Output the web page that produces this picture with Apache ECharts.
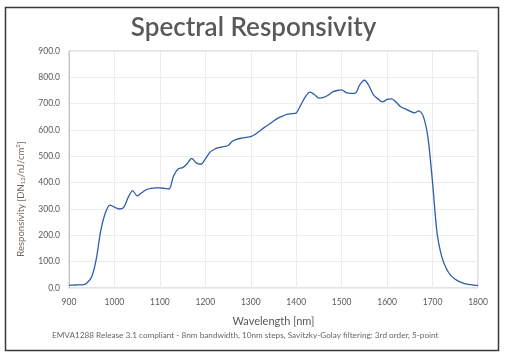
<!DOCTYPE html>
<html><head><meta charset="utf-8">
<script src="https://cdn.jsdelivr.net/npm/echarts@6/dist/echarts.min.js"></script>
<style>html,body{margin:0;padding:0;background:#fff}#c{width:507px;height:357px}</style>
</head><body><div id="c"></div>
<script>
const wavelengths = [900,910,920,930,940,950,960,970,980,990,1000,1010,1020,1030,1040,1050,1060,1070,1080,1090,1100,1110,1120,1130,1140,1150,1160,1170,1180,1190,1200,1210,1220,1230,1240,1250,1260,1270,1280,1290,1300,1310,1320,1330,1340,1350,1360,1370,1380,1390,1400,1410,1420,1430,1440,1450,1460,1470,1480,1490,1500,1510,1520,1530,1540,1550,1560,1570,1580,1590,1600,1610,1620,1630,1640,1650,1660,1670,1680,1690,1700,1710,1720,1730,1740,1750,1760,1770,1780,1790,1800];
const responsivity = [10,11,12,12,20,43,110,219,285,315,307,300,305,343,370,350,362,373,378,380,380,378,376,425,452,457,472,492,475,470,490,515,527,533,537,541,558,565,569,572,575,584,596,610,621,634,645,653,659,662,665,695,726,744,735,721,724,732,745,750,752,742,739,740,772,789,768,733,718,707,716,718,705,688,680,672,665,673,650,570,400,207,120,75,48,33,23,17,14,11,10];
const xTicks = [900,1000,1100,1200,1300,1400,1500,1600,1700,1800];
const yTicks = [0,100,200,300,400,500,600,700,800,900];
const titleText = 'Spectral Responsivity';
const xName = 'Wavelength [nm]';
const footnote = 'EMVA1288 Release 3.1 compliant - 8nm bandwidth, 10nm steps, Savitzky-Golay filtering: 3rd order, 5-point';

const chart = echarts.init(document.getElementById('c'), null, {renderer:'canvas'});
const font = 'Lato, "Open Sans", sans-serif';
chart.setOption({
  animation:false,
  title:{text:titleText,left:'center',top:10,textStyle:{fontFamily:font,fontSize:26,fontWeight:600,color:'#595959'}},
  grid:{left:69,right:29,top:51,bottom:69,show:true,borderColor:'#c8c8c8',borderWidth:1,containLabel:false},
  xAxis:{type:'value',min:xTicks[0],max:xTicks[xTicks.length-1],interval:100,
    name:xName,nameLocation:'middle',nameGap:28,nameTextStyle:{fontFamily:font,fontSize:11,color:'#595959'},
    axisLine:{show:false},axisTick:{show:false},
    axisLabel:{fontFamily:font,fontSize:8.5,color:'#595959',margin:10,formatter:v=>String(v)},
    splitLine:{show:true,lineStyle:{color:'#ececec',width:1}}},
  yAxis:{type:'value',min:yTicks[0],max:yTicks[yTicks.length-1],interval:100,
    axisLine:{show:true,lineStyle:{color:'#c8c8c8'}},axisTick:{show:false},
    axisLabel:{fontFamily:font,fontSize:8.5,color:'#595959',margin:9,formatter:v=>v.toFixed(1)},
    splitLine:{show:true,lineStyle:{color:'#ececec',width:1}}},
  series:[{type:'line',data:wavelengths.map((w,i)=>[w,responsivity[i]]),showSymbol:false,smooth:0.3,
    lineStyle:{color:'#2e5daa',width:1.3},itemStyle:{color:'#2e5daa'}}],
  graphic:[
    {type:'rect',shape:{x:5.5,y:7.5,width:493,height:343},style:{fill:'none',stroke:'#3a3a3a',lineWidth:1.5},silent:true},
    {type:'text',x:21,y:199,rotation:Math.PI/2,style:{
      text:'{n|Responsivity [DN}{s|12}{n|/nJ/cm}{p|2}{n|]}',
      rich:{n:{fontFamily:font,fontSize:9.5,fill:'#7a6658',verticalAlign:'middle'},
            s:{fontFamily:font,fontSize:6,fill:'#7a6658',padding:[5,0,0,0]},
            p:{fontFamily:font,fontSize:6,fill:'#7a6658',padding:[0,0,5,0]}},
      align:'center',verticalAlign:'middle'}},
    {type:'text',left:52,top:331,style:{text:footnote,fontFamily:font,fontSize:8.2,fill:'#666'}}
  ]
});
</script></body></html>
